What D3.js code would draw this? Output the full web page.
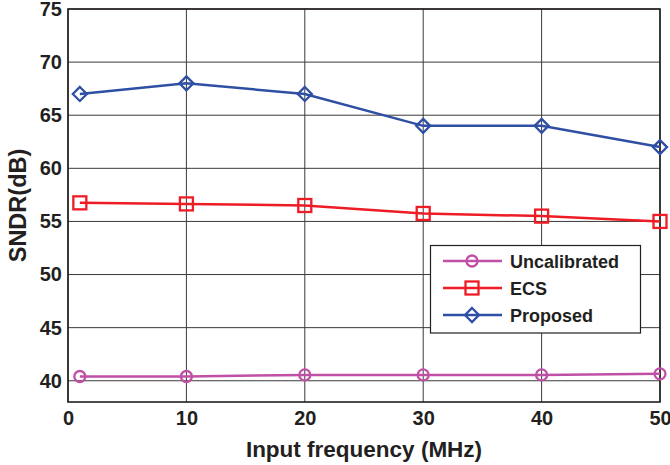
<!DOCTYPE html>
<html><head><meta charset="utf-8">
<script src="https://cdn.jsdelivr.net/npm/d3@7"></script>
<style>body{margin:0;background:#fff}svg{display:block}text{font-family:"Liberation Sans",Arial,sans-serif;font-weight:bold;fill:#231f20}</style>
</head><body>
<script>
const freqs = [1, 10, 20, 30, 40, 50];
const uncalibrated = [40.4, 40.4, 40.55, 40.55, 40.55, 40.65];
const ecs = [56.75, 56.65, 56.5, 55.75, 55.5, 55.0];
const proposed = [67, 68, 67, 64, 64, 62];
const xTicks = [0, 10, 20, 30, 40, 50];
const yTicks = [40, 45, 50, 55, 60, 65, 70, 75];
const seriesNames = ["Uncalibrated", "ECS", "Proposed"];
const seriesColors = ["#c04fa6", "#ee1c25", "#2e4fa3"];
const seriesMarkers = ["circle", "square", "diamond"];

const W = 670, H = 465;
const m = {l: 68, r: 10, t: 9, b: 63};
const svg = d3.select("body").append("svg").attr("width", W).attr("height", H);
const x = d3.scaleLinear().domain([0, 50]).range([m.l, W - m.r]);
const y = d3.scaleLinear().domain([38, 75]).range([H - m.b, m.t]);

// grid
const g = svg.append("g");
g.selectAll(".vg").data(xTicks).join("line")
  .attr("x1", d => x(d)).attr("x2", d => x(d)).attr("y1", y(38)).attr("y2", y(75))
  .attr("stroke", "#3a3a3a").attr("stroke-width", 1);
g.selectAll(".hg").data(yTicks).join("line")
  .attr("x1", x(0)).attr("x2", x(50)).attr("y1", d => y(d)).attr("y2", d => y(d))
  .attr("stroke", "#3a3a3a").attr("stroke-width", 1);
svg.append("rect").attr("x", x(0)).attr("y", y(75)).attr("width", x(50) - x(0)).attr("height", y(38) - y(75))
  .attr("fill", "none").attr("stroke", "#231f20").attr("stroke-width", 1.6);

// axes labels
const xa = svg.append("g").attr("transform", `translate(0,${y(38)})`)
  .call(d3.axisBottom(x).tickValues(xTicks).tickSize(0).tickPadding(9).tickFormat(d3.format("d")));
const ya = svg.append("g").attr("transform", `translate(${x(0)},0)`)
  .call(d3.axisLeft(y).tickValues(yTicks).tickSize(0).tickPadding(6).tickFormat(d3.format("d")));
[xa, ya].forEach(a => { a.select(".domain").remove(); a.selectAll("text").attr("font-size", 20).attr("font-family", "Liberation Sans, Arial, sans-serif").attr("font-weight", "bold").attr("fill", "#231f20"); });

svg.append("text").attr("x", (x(0) + x(50)) / 2).attr("y", 457).attr("text-anchor", "middle")
  .attr("font-size", 22.5).text("Input frequency (MHz)");
svg.append("text").attr("transform", `translate(26,${(y(38) + y(75)) / 2}) rotate(-90)`).attr("text-anchor", "middle")
  .attr("font-size", 23.5).text("SNDR(dB)");

function marker(sel, type, color) {
  if (type === "circle") sel.append("circle").attr("r", 5.5);
  else if (type === "square") sel.append("rect").attr("x", -6.5).attr("y", -6.5).attr("width", 13).attr("height", 13);
  else sel.append("path").attr("d", "M0,-7L7,0L0,7L-7,0Z");
  sel.selectAll("*").attr("fill", "none").attr("stroke", color).attr("stroke-width", 2.3);
}

const allSeries = [uncalibrated, ecs, proposed];
const line = d3.line().x((d, i) => x(freqs[i])).y(d => y(d));
allSeries.forEach((vals, k) => {
  svg.append("path").datum(vals).attr("d", line).attr("fill", "none")
    .attr("stroke", seriesColors[k]).attr("stroke-width", 2.5);
  vals.forEach((v, i) => {
    const mg = svg.append("g").attr("transform", `translate(${x(freqs[i])},${y(v)})`);
    marker(mg, seriesMarkers[k], seriesColors[k]);
  });
});

// legend
const lg = svg.append("g");
lg.append("rect").attr("x", 430.5).attr("y", 245.5).attr("width", 210).attr("height", 87.5)
  .attr("fill", "#fff").attr("stroke", "#231f20").attr("stroke-width", 1.2);
seriesNames.forEach((n, k) => {
  const yy = 261 + k * 27;
  lg.append("line").attr("x1", 443).attr("x2", 502).attr("y1", yy).attr("y2", yy)
    .attr("stroke", seriesColors[k]).attr("stroke-width", 2.5);
  const mg = lg.append("g").attr("transform", `translate(472,${yy})`);
  marker(mg, seriesMarkers[k], seriesColors[k]);
  lg.append("text").attr("x", 510).attr("y", yy + 6.5).attr("font-size", 18).text(n);
});
</script>
</body></html>
